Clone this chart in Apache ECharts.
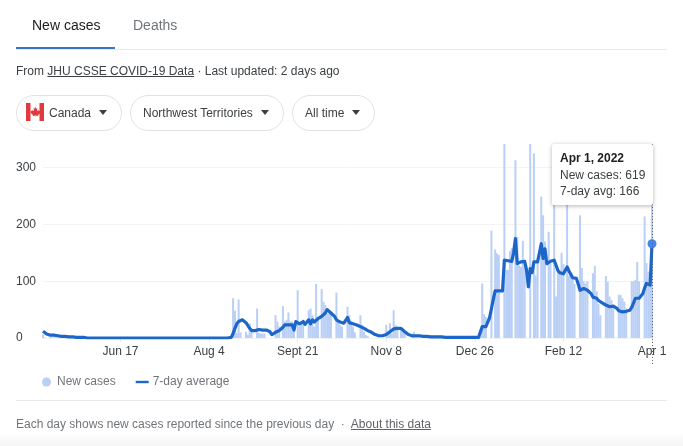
<!DOCTYPE html>
<html><head><meta charset="utf-8">
<script src="https://cdn.jsdelivr.net/npm/echarts@6/dist/echarts.min.js"></script>
<style>
html,body{margin:0;padding:0;background:#fff;width:683px;height:446px;overflow:hidden;font-family:"Liberation Sans",Arial,sans-serif}
#chart{position:absolute;left:0;top:0;width:683px;height:446px}
.t{position:absolute;white-space:nowrap;font-size:12px;line-height:16px}
.pill{position:absolute;top:95px;height:34px;border:1px solid #dfe1e5;border-radius:18px;box-sizing:content-box}
.tri{position:absolute;top:110px;width:0;height:0;border-left:4.5px solid transparent;border-right:4.5px solid transparent;border-top:5px solid #3c4043}
.hr{position:absolute;height:1px;background:#e8eaed;left:16px;width:651px}
#fade{position:absolute;left:0;right:0;top:432px;height:14px;background:linear-gradient(#fff,#f4f4f4)}
#tip{position:absolute;left:552px;top:144px;width:101px;height:61px;background:#fff;box-shadow:0 1px 4px rgba(0,0,0,.3);border-radius:2px;font-size:12px;line-height:16.5px;color:#3c4043;box-sizing:border-box;padding:6px 0 0 8px;white-space:nowrap}
</style></head><body>
<div id="fade"></div>
<div id="chart"></div>
<div class="t" style="left:32px;top:17px;font-size:14px;color:#202124">New cases</div>
<div class="t" style="left:133px;top:17px;font-size:14px;color:#70757a">Deaths</div>
<div class="hr" style="top:49px"></div>
<div style="position:absolute;left:16px;top:47px;width:99px;height:2px;background:#3a74c4"></div>
<div class="t" style="left:16px;top:63px;color:#3c4043">From <u>JHU CSSE COVID-19 Data</u> · Last updated: 2 days ago</div>
<div class="pill" style="left:16px;width:104px"></div>
<div class="pill" style="left:130px;width:152px"></div>
<div class="pill" style="left:292px;width:81px"></div>
<svg style="position:absolute;left:26px;top:103px" width="18" height="18" viewBox="0 0 18 18"><rect width="18" height="18" rx="1.5" fill="#fff"/><rect width="4.5" height="18" fill="#e0393e"/><rect x="13.5" width="4.5" height="18" fill="#e0393e"/><path d="M9 3.5l1.2 2.2 1.2-.6-.5 3 1.6-1.2.4 1 1.6-.3-.5 1.7.7.4-2.7 2.2.3 1-2.7-.3V14h-.2v-1.4l-2.7.3.3-1-2.7-2.2.7-.4-.5-1.7 1.6.3.4-1 1.6 1.2-.5-3 1.2.6z" fill="#e0393e"/></svg>
<div class="t" style="left:49px;top:105px;color:#3c4043">Canada</div>
<div class="tri" style="left:99px"></div>
<div class="t" style="left:143px;top:105px;color:#3c4043">Northwest Territories</div>
<div class="tri" style="left:261px"></div>
<div class="t" style="left:305px;top:105px;color:#3c4043">All time</div>
<div class="tri" style="left:352px"></div>
<div class="hr" style="top:400px"></div>
<div class="t" style="left:16px;top:416px;color:#70757a">Each day shows new cases reported since the previous day &nbsp;·&nbsp; <u style="color:#5f6368">About this data</u></div>
<div id="tip"></div>
<script>
const newCases = [
6,1,0,0,2,1,1,
1,1,0,0,1,0,0,
0,0,0,0,0,0,0,
0,0,0,0,0,0,0,
0,0,0,0,0,0,0,
0,0,0,0,0,0,0,
0,0,0,0,0,0,0,
0,0,0,0,0,0,0,
0,0,0,0,0,0,0,
0,0,0,0,0,0,0,
0,0,0,0,0,0,0,
0,0,0,0,0,0,0,
0,0,0,0,0,0,0,
0,0,0,0,0,0,0,
0,0,0,0,0,70,48,
9,68,10,0,0,11,6,
26,14,0,0,52,9,8,
8,8,0,0,0,0,0,
40,29,20,0,56,29,32,
45,29,29,26,0,84,20,
26,32,0,0,49,52,40,
20,95,32,0,86,64,58,
43,43,43,0,0,80,30,
23,20,0,0,55,40,30,
20,10,0,0,40,23,11,
5,3,0,0,0,0,0,
1,0,0,0,23,6,26,
8,49,23,20,0,14,10,
8,0,0,0,4,11,4,
2,2,0,0,3,4,2,
1,0,0,0,2,2,1,
1,0,0,0,1,1,0,
1,1,0,0,1,2,1,
1,1,1,0,0,2,3,
96,42,37,0,0,189,0,
156,149,146,0,0,420,120,
120,153,158,0,313,178,128,
125,171,128,0,0,390,0,
325,110,140,0,249,216,170,
0,187,131,0,234,73,120,
120,150,130,0,269,110,110,
105,95,0,0,216,123,100,
96,100,0,0,114,127,82,
60,40,0,0,109,99,73,
67,52,0,0,76,76,70,
64,52,0,0,100,100,102,
134,100,0,0,214,132,117,
105,619];
const sevenDayAvg = [
12,9,7,6,5,5,5,
5,4,4,3,3,3,2,
2,2,2,2,1,1,1,
1,1,0,0,0,0,0,
0,0,0,0,0,0,0,
0,0,0,0,0,0,0,
0,0,0,0,0,0,0,
0,0,0,0,0,0,0,
0,0,0,0,0,0,0,
0,0,0,0,0,0,0,
0,0,0,0,0,0,0,
0,0,0,0,0,0,0,
0,0,0,0,0,0,0,
0,0,0,0,0,0,0,
0,0,0,0,1,8,17,
25,29,31,32,32,27,22,
17,13,11,13,15,15,14,
14,14,14,13,11,6,8,
10,12,13,15,19,23,24,
23,24,23,14,29,27,25,
23,29,24,27,32,25,32,
28,27,34,35,38,40,44,
50,47,44,43,38,32,30,
28,27,26,26,36,27,26,
25,24,23,22,20,18,17,
15,13,11,10,8,6,5,
4,4,4,5,6,8,11,
13,16,17,17,17,17,15,
11,8,6,5,4,4,4,
4,4,3,3,3,3,2,
2,2,2,2,2,2,2,
1,1,1,1,1,1,1,
1,1,1,1,1,1,1,
1,1,1,1,1,1,1,
20,20,20,20,36,52,68,
83,83,83,83,83,137,135,
136,135,135,150,175,131,132,
134,135,135,120,90,122,115,
134,134,134,134,166,140,157,
131,134,135,137,137,128,119,
115,113,113,115,125,118,112,
106,106,105,95,84,87,87,
85,84,84,78,72,72,70,
66,64,62,60,58,55,55,
55,56,56,52,48,46,46,
46,47,48,49,54,62,70,
70,70,71,78,88,96,95,
93,166];
const tickLabels = {42:'Jun 17',90:'Aug 4',138:'Sept 21',186:'Nov 8',234:'Dec 26',282:'Feb 12',330:'Apr 1'};
const categories = newCases.map((_, i) => tickLabels[i] || String(i));
const lastDate = 'Apr 1, 2022';
const last = newCases.length - 1;
const isTick = i => tickLabels[i] !== undefined;

document.getElementById('tip').innerHTML =
  `<b style="color:#202124">${lastDate}</b><br>New cases: ${newCases[last]}<br>7-day avg: ${sevenDayAvg[last]}`;

const chart = echarts.init(document.getElementById('chart'), null, {renderer:'canvas'});
chart.setOption({
  animation:false,
  textStyle:{fontFamily:'"Liberation Sans",Arial,sans-serif'},
  grid:{left:43,right:31,top:144,bottom:108},
  legend:{
    left:37, top:371, itemWidth:13, itemHeight:9, itemGap:20, selectedMode:false,
    textStyle:{fontSize:12,color:'#70757a',padding:[0,0,0,-1]},
    data:[{name:'New cases',icon:'circle'},{name:'7-day average',icon:'path://M0,0H13V2.4H0z'}]
  },
  xAxis:{
    type:'category', data:categories, boundaryGap:false,
    axisLine:{show:false},
    axisTick:{show:true,length:4,interval:(i)=>isTick(i),lineStyle:{color:'#e8eaed'}},
    axisLabel:{interval:(i)=>isTick(i),fontSize:12,color:'#3c4043',margin:8}
  },
  yAxis:{
    type:'value', min:0, max:341.5, interval:100,
    axisLine:{show:false}, axisTick:{show:false},
    splitLine:{showMaxLine:false,lineStyle:{color:'#f1f3f4'}},
    axisLabel:{showMaxLabel:false,fontSize:12,color:'#3c4043',margin:27,align:'left'}
  },
  series:[
    {name:'New cases',type:'bar',data:newCases,barWidth:2,barGap:'-100%',
     itemStyle:{color:'#b9cff6'}},
    {name:'7-day average',type:'line',data:sevenDayAvg,symbol:'none',
     lineStyle:{color:'#1c66c9',width:3.2,join:'round'},itemStyle:{color:'#1c66c9'},
     markPoint:{silent:true,symbol:'circle',symbolSize:9,itemStyle:{color:'#4285f4',borderWidth:0},label:{show:false},
       data:[{coord:[last,sevenDayAvg[last]]}]}}
  ]
});
const px = chart.convertToPixel({xAxisIndex:0},last);
chart.setOption({graphic:[{type:'line',silent:true,z:5,
  shape:{x1:px+0.5,y1:144,x2:px+0.5,y2:366},
  style:{stroke:'#5f6368',lineWidth:1,lineDash:[1,2]}}]});
</script>
</body></html>
